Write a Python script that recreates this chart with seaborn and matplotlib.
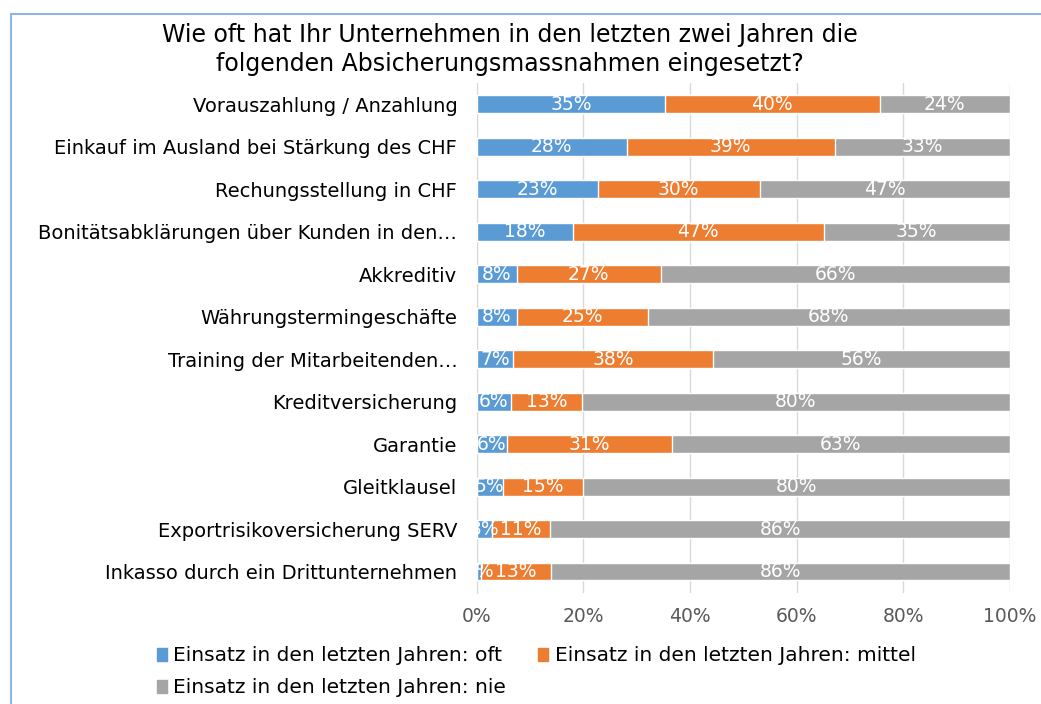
import numpy as np
import pandas as pd
import matplotlib
matplotlib.use("Agg")
import matplotlib.pyplot as plt
import seaborn as sns
from matplotlib.patches import Rectangle

# categories, top to bottom
categories = [
    "Vorauszahlung / Anzahlung",
    "Einkauf im Ausland bei Stärkung des CHF",
    "Rechungsstellung in CHF",
    "Bonitätsabklärungen über Kunden in den…",
    "Akkreditiv",
    "Währungstermingeschäfte",
    "Training der Mitarbeitenden…",
    "Kreditversicherung",
    "Garantie",
    "Gleitklausel",
    "Exportrisikoversicherung SERV",
    "Inkasso durch ein Drittunternehmen",
]

# shares in %
oft = [35.3, 28.1, 22.7, 18.0, 7.5, 7.5, 6.8, 6.4, 5.6, 4.9, 2.8, 0.8]
mittel = [40.3, 39.1, 30.4, 47.1, 27.0, 24.6, 37.5, 13.3, 31.0, 15.1, 11.0, 13.2]
nie = [24.4, 32.8, 46.9, 34.9, 65.5, 67.9, 55.7, 80.3, 63.4, 80.0, 86.2, 86.0]

series_names = [
    "Einsatz in den letzten Jahren: oft",
    "Einsatz in den letzten Jahren: mittel",
    "Einsatz in den letzten Jahren: nie",
]
colors = ["#5B9BD5", "#ED7D31", "#A5A5A5"]
x_ticks = [0, 20, 40, 60, 80, 100]

df = pd.DataFrame({"cat": categories, "oft": oft, "mittel": mittel, "nie": nie})
df["c1"] = df["oft"]
df["c2"] = df["oft"] + df["mittel"]
df["c3"] = df["c2"] + df["nie"]

sns.set_style("white")
plt.rcParams["font.family"] = ["DejaVu Sans"]

fig = plt.figure(figsize=(10.41, 7.04), dpi=100)
ax = fig.add_axes([0.458, 0.158, 0.512, 0.724])

# stacked bars: draw cumulative totals from the back
for col, color in zip(["c3", "c2", "c1"], colors[::-1]):
    sns.barplot(data=df, x=col, y="cat", color=color, orient="h",
                width=0.42, saturation=1, ax=ax, zorder=3)

# value labels
for i, row in df.iterrows():
    starts = [0, row["c1"], row["c2"]]
    vals = [row["oft"], row["mittel"], row["nie"]]
    for s, v in zip(starts, vals):
        ax.text(s + v / 2, i, f"{round(v):.0f}%", ha="center", va="center",
                color="white", fontsize=13.5, zorder=4, clip_on=True)

ax.set_xlim(0, 100)
ax.set_ylim(len(categories) - 0.5, -0.5)
ax.set_xticks(x_ticks)
ax.set_xticklabels([f"{t}%" for t in x_ticks], color="#595959", fontsize=13.5)
ax.set_xlabel("")
ax.set_ylabel("")
ax.tick_params(axis="y", labelsize=14, length=0, pad=14, labelcolor="#000000")
ax.tick_params(axis="x", length=0, pad=10)
ax.grid(axis="x", color="#D9D9D9", linewidth=1, zorder=0)
ax.set_axisbelow(True)
for side in ["top", "right", "bottom"]:
    ax.spines[side].set_visible(False)
ax.spines["left"].set_color("#D9D9D9")

fig.text(0.49, 0.968, "Wie oft hat Ihr Unternehmen in den letzten zwei Jahren die\nfolgenden Absicherungsmassnahmen eingesetzt?",
         ha="center", va="top", fontsize=17, linespacing=1.3, color="black")

# legend fills column-wise, so order the entries to read row by row
order = [0, 2, 1]
handles = [Rectangle((0, 0), 1, 1, color=colors[k]) for k in order]
labels = [series_names[k] for k in order]
fig.legend(handles, labels, loc="upper left", bbox_to_anchor=(0.151, 0.082),
           ncol=2, frameon=False, fontsize=14.5, handlelength=0.5, handleheight=0.6,
           handletextpad=0.3, columnspacing=1.6, labelspacing=0.65,
           borderaxespad=0, borderpad=0, labelcolor="black")

# light blue chart border
fig.patches.append(Rectangle((0.011, -0.01), 1.0, 0.99, transform=fig.transFigure,
                             fill=False, edgecolor="#8DB4E2", linewidth=1.5))

fig.savefig("out.png", dpi=100)
